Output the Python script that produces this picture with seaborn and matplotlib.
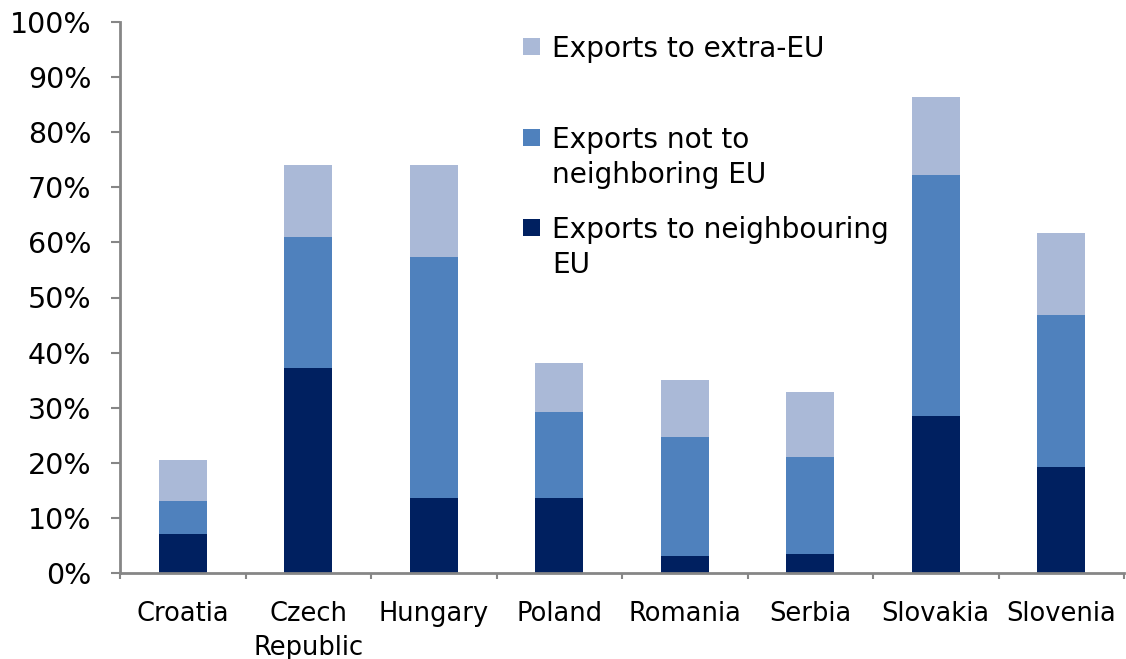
import numpy as np
import pandas as pd
import matplotlib
matplotlib.use("Agg")
import matplotlib.pyplot as plt
import matplotlib.transforms as mtransforms
from matplotlib.patches import Rectangle
from matplotlib.ticker import FixedLocator, FuncFormatter
import seaborn as sns

# Share of exports by destination, percent of GDP
countries = ["Croatia", "Czech\nRepublic", "Hungary", "Poland",
             "Romania", "Serbia", "Slovakia", "Slovenia"]
to_neighbouring_eu = [7.1, 37.2, 13.6, 13.6, 3.1, 3.5, 28.5, 19.3]
not_to_neighbouring_eu = [6.0, 23.7, 43.7, 15.7, 21.5, 17.6, 43.7, 27.6]
to_extra_eu = [7.4, 13.1, 16.7, 8.8, 10.4, 11.7, 14.1, 14.8]

series_labels = ["Exports to extra-EU",
                 "Exports not to\nneighboring EU",
                 "Exports to neighbouring\nEU"]
colors = ["#AAB9D7", "#4F81BD", "#002060"]
y_ticks = list(range(0, 101, 10))

sns.set_style("white")
plt.rcParams["font.family"] = ["DejaVu Sans"]

df = pd.DataFrame({
    "country": countries,
    "dark": to_neighbouring_eu,
    "mid": np.add(to_neighbouring_eu, not_to_neighbouring_eu),
})
df["top"] = df["mid"] + np.array(to_extra_eu)

W, H = 1126, 659
fig = plt.figure(figsize=(W / 100, H / 100), dpi=100)
ax = fig.add_axes([120 / W, 1 - 573 / H, 1004 / W, (573 - 22) / H])

# stacked columns drawn as overlapping cumulative bars
for col, c in zip(["top", "mid", "dark"], colors):
    sns.barplot(data=df, x="country", y=col, color=c, width=0.38,
                saturation=1, ax=ax, linewidth=0)

ax.set_xlim(-0.5, len(countries) - 0.5)
ax.set_ylim(0, 100)
ax.set_xlabel("")
ax.set_ylabel("")

ax.yaxis.set_major_locator(FixedLocator(y_ticks))
ax.yaxis.set_major_formatter(FuncFormatter(lambda v, p: f"{v:.0f}%"))
ax.tick_params(axis="y", direction="out", length=6.5, width=1.5,
               color="#868686", labelsize=20.5, pad=14, left=True,
               labelcolor="black")

ax.set_xticks(range(len(countries)))
ax.set_xticklabels(countries)
ax.set_xticks(np.arange(-0.5, len(countries)), minor=True)
ax.tick_params(axis="x", which="major", length=0, labelsize=18.5, pad=20,
               labelcolor="black")
ax.tick_params(axis="x", which="minor", direction="out", length=4,
               width=1.5, color="#868686", bottom=True)
for t in ax.get_xticklabels():
    t.set_linespacing(1.42)

for s in ["top", "right"]:
    ax.spines[s].set_visible(False)
for s in ["left", "bottom"]:
    ax.spines[s].set_color("#868686")
    ax.spines[s].set_linewidth(2)
ax.grid(False)

# legend block in the upper middle
px = mtransforms.IdentityTransform()
first_baselines = [57, 148, 238]
line_step = 35
for lab, c, bl in zip(series_labels, colors, first_baselines):
    fig.patches.append(Rectangle((523, H - bl + 2), 17, 17, facecolor=c,
                                 edgecolor="none", transform=px, figure=fig))
    for i, line in enumerate(lab.split("\n")):
        fig.text(552, H - bl - i * line_step, line, transform=px,
                 fontsize=20.2, va="baseline", ha="left", color="black")

fig.savefig("out.png", dpi=100)
